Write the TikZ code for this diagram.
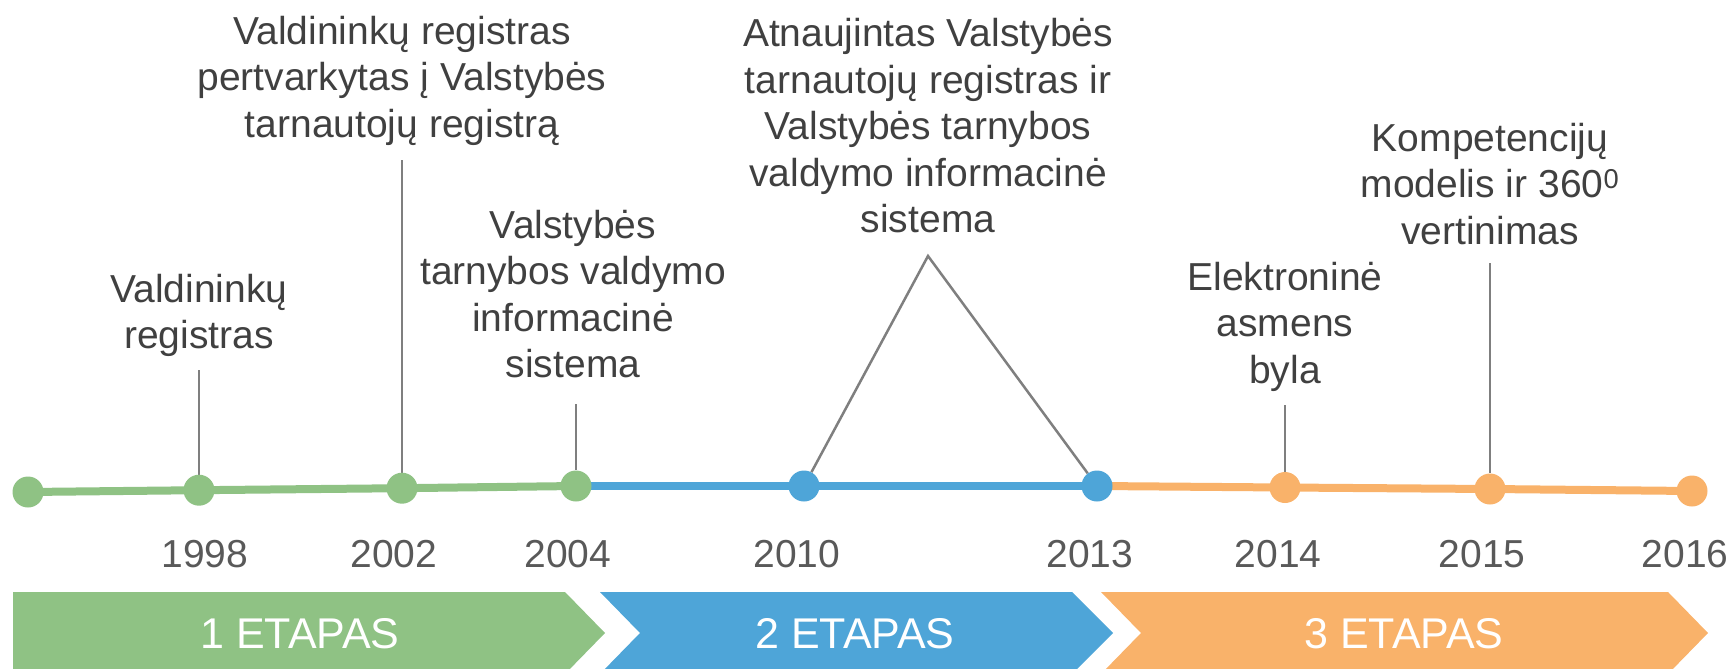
\documentclass[tikz,border=0pt]{standalone}
\usepackage{fontspec}
\setmainfont{Liberation Sans}
\usetikzlibrary{backgrounds}
\definecolor{cgreen}{HTML}{8FC284}
\definecolor{cblue}{HTML}{4EA5D8}
\definecolor{corange}{HTML}{F9B26A}
\definecolor{txtgray}{HTML}{404040}
\definecolor{yrgray}{HTML}{595959}
\definecolor{leadgray}{HTML}{7F7F7F}
\begin{document}
\begin{tikzpicture}[x=1pt,y=-1pt,
  lbl/.style={align=center, inner sep=0pt, anchor=north, text=txtgray, font=\fontsize{39}{46.5}\selectfont},
  yr/.style={inner sep=0pt, anchor=base, text=yrgray, font=\fontsize{39}{46.5}\selectfont},
  etap/.style={inner sep=0pt, anchor=base, text=white, font=\fontsize{43}{50}\selectfont},
  dot/.style={circle, inner sep=0pt, minimum size=31pt},
  leader/.style={draw=leadgray, line width=2.5pt},
  tl/.style={line width=8pt},
]
\useasboundingbox (0,0) rectangle (1733,669);
\clip (0,0) rectangle (1733,669);

% bottom chevrons
\fill[cgreen] (13,592) -- (565,592) -- (605,633) -- (565,674) -- (13,674) -- cycle;
\fill[cblue] (600,592) -- (1072,592) -- (1113,633) -- (1072,674) -- (600,674) -- (640,633) -- cycle;
\fill[corange] (1101,592) -- (1668,592) -- (1708,633) -- (1668,674) -- (1101,674) -- (1141,633) -- cycle;
\node[etap] (e1) at (300,648.5) {1 ETAPAS};
\node[etap] (e2) at (855,648.5) {2 ETAPAS};
\node[etap] (e3) at (1404,648.5) {3 ETAPAS};

% dots
\node[dot, fill=cgreen] (d0) at (28,492) {};
\node[dot, fill=cgreen] (d1998) at (199,490.2) {};
\node[dot, fill=cgreen] (d2002) at (402,488.2) {};
\node[dot, fill=cgreen] (d2004) at (576,486) {};
\node[dot, fill=cblue] (d2010) at (804,486) {};
\node[dot, fill=cblue] (d2013) at (1097,486) {};
\node[dot, fill=corange] (d2014) at (1285,487.5) {};
\node[dot, fill=corange] (d2015) at (1490,489) {};
\node[dot, fill=corange] (d2016) at (1692,491) {};

% year labels
\node[yr] (y1998) at (205,567) {1998};
\node[yr] (y2002) at (394,567) {2002};
\node[yr] (y2004) at (568,567) {2004};
\node[yr] (y2010) at (797,567) {2010};
\node[yr] (y2013) at (1090,567) {2013};
\node[yr] (y2014) at (1278,567) {2014};
\node[yr] (y2015) at (1482,567) {2015};
\node[yr] (y2016) at (1685,567) {2016};

% event labels
\node[lbl] (t1998) at (199,274) {Valdininkų\\registras};
\node[lbl] (t2002) at (402,16) {Valdininkų registras\\pertvarkytas į Valstybės\\tarnautojų registrą};
\node[lbl] (t2004) at (573,210) {Valstybės\\tarnybos valdymo\\informacinė\\sistema};
\node[lbl] (t2010) at (928,18.5) {Atnaujintas Valstybės\\tarnautojų registras ir\\Valstybės tarnybos\\valdymo informacinė\\sistema};
\node[lbl] (t2014) at (1285,262) {Elektroninė\\asmens\\byla};
\node[lbl] (t2015) at (1490,123) {Kompetencijų\\modelis ir 360\textsuperscript{0}\\vertinimas};

% leader ends
\coordinate (c1998) at (199,370);
\coordinate (c2002) at (402,160);
\coordinate (c2004) at (576,404);
\coordinate (apex) at (928,256);
\coordinate (c2014) at (1285,405);
\coordinate (c2015) at (1490,263);

\begin{scope}[on background layer]
  \draw[tl, cgreen] (d0.center) -- (d1998.center) -- (d2002.center) -- (d2004.center);
  \draw[tl, cblue] (d2004.center) -- (d2010.center) -- (d2013.center);
  \draw[tl, corange] (d2013.center) -- (d2014.center) -- (d2015.center) -- (d2016.center);
  \draw[leader] (c1998) -- (d1998);
  \draw[leader] (c2002) -- (d2002);
  \draw[leader] (c2004) -- (d2004);
  \draw[leader] (d2010) -- (apex) -- (d2013);
  \draw[leader] (c2014) -- (d2014);
  \draw[leader] (c2015) -- (d2015);
\end{scope}
\end{tikzpicture}
\end{document}
